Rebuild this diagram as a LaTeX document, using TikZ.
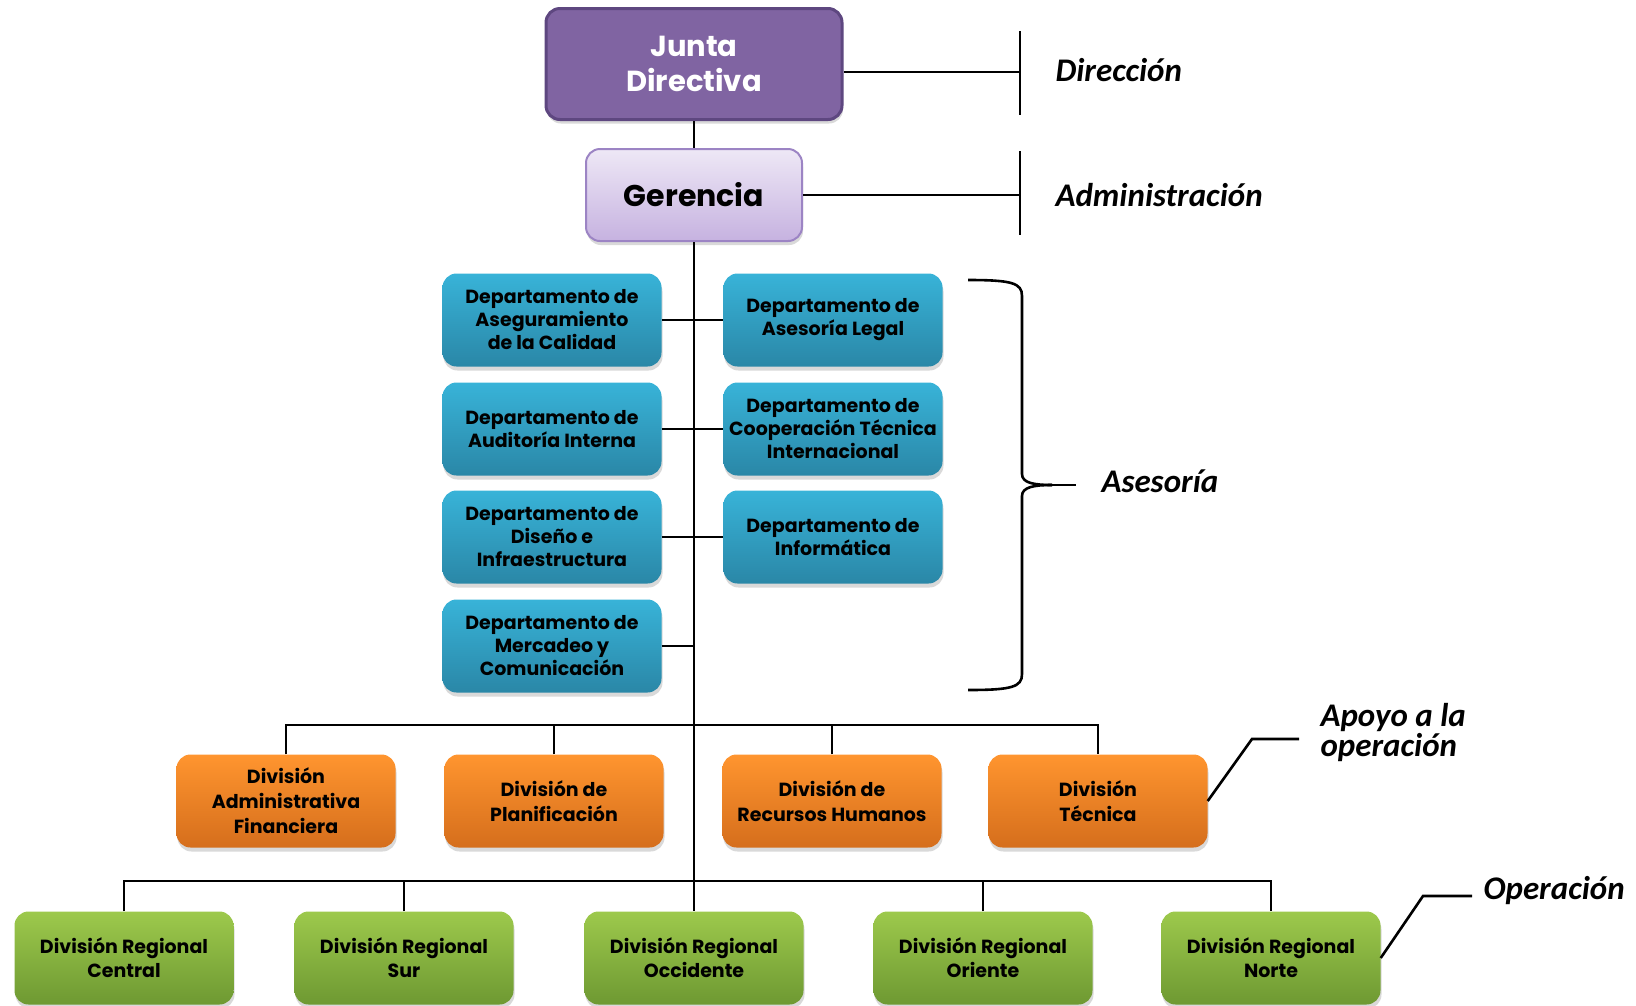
\documentclass[tikz,border=0pt]{standalone}
\usepackage{fontspec}
\setmainfont{Poppins}
\newfontfamily\lblfont{Carlito}
\usetikzlibrary{shadows}

\definecolor{juntafill}{HTML}{8064A2}
\definecolor{juntaline}{HTML}{5E4780}
\definecolor{gertop}{HTML}{EEE8F6}
\definecolor{gerbot}{HTML}{C6B2E0}
\definecolor{gerline}{HTML}{9C84C4}
\definecolor{deptop}{HTML}{38B3D8}
\definecolor{depbot}{HTML}{2A87A7}
\definecolor{divtop}{HTML}{FF952F}
\definecolor{divbot}{HTML}{D56E1C}
\definecolor{regtop}{HTML}{9DC94C}
\definecolor{regbot}{HTML}{6E9932}

\tikzset{
  orgbox/.style={rounded corners=14pt, minimum width=219pt, minimum height=93pt,
    inner sep=2pt, align=center, text=black,
    drop shadow={opacity=0.3, shadow xshift=1pt, shadow yshift=-4pt}},
  deptbox/.style={orgbox, top color=deptop, bottom color=depbot,
    font=\bfseries\fontsize{19}{23}\selectfont},
  divbox/.style={orgbox, top color=divtop, bottom color=divbot,
    font=\bfseries\fontsize{19}{25}\selectfont},
  regbox/.style={orgbox, top color=regtop, bottom color=regbot,
    font=\bfseries\fontsize{19}{24}\selectfont},
  link/.style={line width=2.6pt, black},
  levellbl/.style={anchor=west, font=\lblfont\bfseries\itshape\fontsize{33}{33}\selectfont},
}

\begin{document}
\begin{tikzpicture}[x=1pt, y=-1pt]
  \useasboundingbox (0,0) rectangle (1636,1005);

  % Top of the chart
  \node[orgbox, minimum width=296pt, minimum height=111pt, fill=juntafill,
    draw=juntaline, line width=3pt, text=white,
    font=\bfseries\fontsize{29}{35}\selectfont] (junta) at (694,64) {Junta\\Directiva};
  \node[orgbox, minimum width=216pt, minimum height=92pt, top color=gertop,
    bottom color=gerbot, draw=gerline, line width=2pt,
    font=\bfseries\fontsize{30}{34}\selectfont] (gerencia) at (694,195) {Gerencia};

  % Staff departments
  \node[deptbox] (calidad) at (552,320) {Departamento de\\Aseguramiento\\de la Calidad};
  \node[deptbox] (legal) at (833,320) {Departamento de\\Asesoría Legal};
  \node[deptbox] (auditoria) at (552,429) {Departamento de\\Auditoría Interna};
  \node[deptbox] (coop) at (833,429) {Departamento de\\Cooperación Técnica\\Internacional};
  \node[deptbox] (diseno) at (552,537) {Departamento de\\Diseño e\\Infraestructura};
  \node[deptbox] (informatica) at (833,537) {Departamento de\\Informática};
  \node[deptbox] (mercadeo) at (552,646) {Departamento de\\Mercadeo y\\Comunicación};

  % Support divisions
  \node[divbox] (admfin) at (286,801) {División\\Administrativa\\Financiera};
  \node[divbox] (planif) at (554,801) {División de\\Planificación};
  \node[divbox] (rrhh) at (832,801) {División de\\Recursos Humanos};
  \node[divbox] (tecnica) at (1098,801) {División\\Técnica};

  % Regional divisions
  \node[regbox] (central) at (124,958) {División Regional\\Central};
  \node[regbox] (sur) at (404,958) {División Regional\\Sur};
  \node[regbox] (occidente) at (694,958) {División Regional\\Occidente};
  \node[regbox] (oriente) at (983,958) {División Regional\\Oriente};
  \node[regbox] (norte) at (1271,958) {División Regional\\Norte};

  % Main trunk and branches
  \coordinate (busA) at (694,725);
  \coordinate (busB) at (694,881);
  \draw[link] (junta) -- (gerencia);
  \draw[link] (gerencia) -- (occidente);
  \draw[link] (calidad) -- (legal);
  \draw[link] (auditoria) -- (coop);
  \draw[link] (diseno) -- (informatica);
  \draw[link] (mercadeo.east) -- (mercadeo.east -| gerencia.south);
  \draw[link] (admfin.north) |- (busA) -| (tecnica.north);
  \draw[link] (planif.north) -- (planif.north |- busA);
  \draw[link] (rrhh.north) -- (rrhh.north |- busA);
  \draw[link] (central.north) |- (busB) -| (norte.north);
  \draw[link] (sur.north) -- (sur.north |- busB);
  \draw[link] (oriente.north) -- (oriente.north |- busB);

  % Level markers
  \coordinate (dirbar) at (1020,72);
  \coordinate (admbar) at (1020,195);
  \draw[link] (junta.east |- dirbar) -- (dirbar);
  \draw[link] ([yshift=41pt]dirbar) -- ([yshift=-43pt]dirbar);
  \draw[link] (gerencia.east |- admbar) -- (admbar);
  \draw[link] ([yshift=44pt]admbar) -- ([yshift=-40pt]admbar);
  \node[levellbl] (direccion) at (1052,70) {Dirección};
  \node[levellbl] (administracion) at (1052,195) {Administración};

  % Brace for the staff departments
  \coordinate (bracetip) at (1076,485);
  \draw[link] (968,280) .. controls (1012,280) and (1022,283) .. (1022,296)
    -- (1022,474) .. controls (1022,483) and (1034,485) .. (1052,485);
  \draw[link] (968,690) .. controls (1012,690) and (1022,687) .. (1022,674)
    -- (1022,496) .. controls (1022,487) and (1034,485) .. (1052,485);
  \draw[link] (1052,485) -- (bracetip);
  \node[levellbl] (asesoria) at (1098,481) {Asesoría};

  % Leaders for the lower levels
  \coordinate (apoyoend) at (1299,739);
  \coordinate (operend) at (1472,896);
  \draw[link] (tecnica.east) -- (1252,739) -- (apoyoend);
  \draw[link] (norte.east) -- (1423,896) -- (operend);
  \node[levellbl, align=left, font=\lblfont\bfseries\itshape\fontsize{33}{30}\selectfont]
    (apoyo) at (1317,733) {Apoyo a la\\operación};
  \node[levellbl] (operacion) at (1480,891) {Operación};
\end{tikzpicture}
\end{document}
